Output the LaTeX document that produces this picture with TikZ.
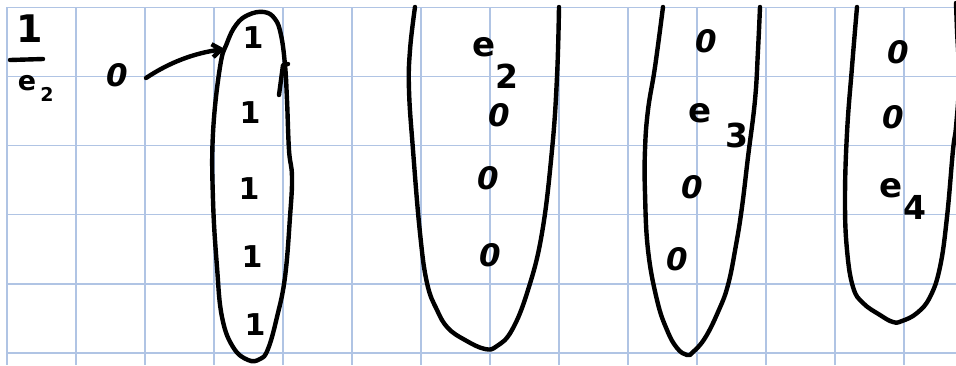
\documentclass[tikz,border=0pt]{standalone}
\usepackage{fontspec}
\setmainfont{DejaVu Sans}
\usetikzlibrary{arrows.meta}
\definecolor{gridblue}{RGB}{176,196,228}
\tikzset{
  gridline/.style={draw=gridblue, line width=1.3pt},
  ink/.style={draw=black, line width=4.4pt, line cap=round, line join=round},
  one/.style={inner sep=0pt, font=\bfseries\fontsize{30}{30}\selectfont},
  zero/.style={inner sep=0pt, font=\bfseries\itshape\fontsize{31}{31}\selectfont},
  ee/.style={inner sep=0pt, font=\bfseries\fontsize{34}{34}\selectfont},
  sub/.style={inner sep=0pt, font=\bfseries\fontsize{33}{33}\selectfont},
}
\begin{document}
\begin{tikzpicture}[x=1pt,y=-1pt]
\useasboundingbox[fill=white] (0,0) rectangle (956,365);
\clip (0,0) rectangle (956,365);
% grid
\foreach \k in {0,...,13} { \draw[gridline] (7+69*\k,7) -- (7+69*\k,365); }
\foreach \k in {0,...,5} { \draw[gridline] (7,7.5+69.1*\k) -- (956,7.5+69.1*\k); }

% left fraction 1/e_2
\node[one, font=\bfseries\fontsize{38}{38}\selectfont] (fone) at (30,29) {1};
\coordinate (fl) at (10,60);
\coordinate (fr) at (43,59);
\draw[ink] (fl) -- (fr);
\node[ee, font=\bfseries\fontsize{27}{27}\selectfont] (fe) at (27,83) {e};
\node[sub, font=\bfseries\fontsize{19}{19}\selectfont] (f2) at (47,94) {2};

% zero with arrow
\node[zero] (zeroA) at (117,75) {0};
\coordinate (arrS) at (146,78);
\coordinate (arrT) at (225,49);
\draw[ink, -{Straight Barb[length=9pt,width=13pt]}] (arrS) .. controls (170,62) and (195,53) .. (arrT);

% blob 1
\draw[ink] plot[smooth cycle, tension=0.7] coordinates {
 (264,12) (248,15) (236,25) (227,43) (220,67) (213,133) (213,200) (217,267) (222,317)
 (233,347) (248,360) (260,359) (268,349) (277,317) (285,277) (290,217) (292,177)
 (289,150) (287,100) (285,65) (281,35) (275,19)};
\coordinate (hkA) at (279,95);
\coordinate (hkB) at (283,65);
\coordinate (hkC) at (288,64);
\draw[ink] (hkA) -- (hkB) -- (hkC);
\node[one] (b1a) at (253,38) {1};
\node[one] (b1b) at (250,113) {1};
\node[one] (b1c) at (249,189) {1};
\node[one] (b1d) at (252,257) {1};
\node[one] (b1e) at (255,325) {1};

% blob 2
\draw[ink] plot[smooth, tension=0.7] coordinates {
 (415,7) (410,50) (409,90) (413,150) (420,233) (427,283) (437,310) (448,328) (465,340)
 (485,349) (497,346) (512,330) (528,290) (542,233) (552,150) (557,77) (559,7)};
\node[ee] (b2e) at (484,47) {e};
\node[sub] (b2s) at (507,76) {2};
\node[zero] (b2a) at (499,115) {0};
\node[zero] (b2b) at (488,178) {0};
\node[zero] (b2c) at (490,255) {0};

% blob 3
\draw[ink] plot[smooth, tension=0.7] coordinates {
 (663,7) (655,67) (648,110) (645,150) (645,193) (648,250) (657,300) (667,330) (677,348)
 (687,355) (693,352) (705,338) (718,312) (728,285) (736,245) (742,207) (748,157)
 (755,100) (758,50) (760,7)};
\node[zero] (b3a) at (706,41) {0};
\node[ee] (b3e) at (700,113) {e};
\node[sub] (b3s) at (737,135) {3};
\node[zero] (b3b) at (692,187) {0};
\node[zero] (b3c) at (677,259) {0};

% blob 4
\draw[ink] plot[smooth, tension=0.7] coordinates {
 (857,7) (852,67) (847,133) (845,200) (847,250) (853,287) (863,303) (880,315) (893,322)
 (902,321) (917,313) (930,297) (940,267) (947,217) (953,150) (956,127) (959,80) (957,30) (956,3)};
\node[zero] (b4a) at (898,52) {0};
\node[zero] (b4b) at (893,117) {0};
\node[ee] (b4e) at (891,188) {e};
\node[sub] (b4s) at (915,207) {4};
\end{tikzpicture}
\end{document}
